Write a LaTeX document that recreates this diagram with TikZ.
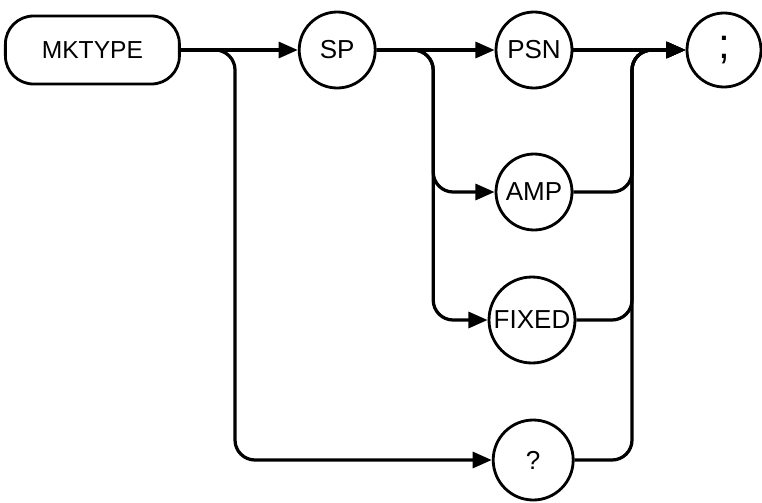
\documentclass[tikz,border=0pt]{standalone}
\usepackage{fontspec}
\setsansfont{Liberation Sans}
\usetikzlibrary{arrows.meta}

\begin{document}
\begin{tikzpicture}[
  font=\sffamily\fontsize{18.5}{21}\selectfont,
  kwbox/.style={
    draw=black, line width=2pt, rounded corners=0.7cm,
    minimum width=4.35cm, minimum height=1.7cm,
    font=\sffamily\fontsize{17.5}{20}\selectfont,
  },
  tok/.style={draw=black, circle, line width=2pt, inner sep=1pt, minimum size=1.9cm},
  flow/.style={-{Triangle[length=0.48cm, width=0.4cm]}, line width=2.3pt, draw=black,
    rounded corners=0.5cm},
]
\useasboundingbox (0,0) rectangle (19.05,-12.55);

% ===== MAIN ROW (y=-1.25) =====
\node[kwbox] (mktype) at (2.31,-1.25) {MKTYPE};
\node[tok] (sp)  at (8.43,-1.25) {SP};
\node[tok] (psn) at (13.35,-1.25) {PSN};
\node[tok, minimum size=1.85cm, font=\sffamily\fontsize{30}{32}\selectfont] (semi) at (18.1,-1.25) {;};

% ===== ALTERNATIVES =====
\node[tok] (amp) at (13.35,-4.8) {AMP};
\node[tok, minimum size=2.15cm] (fixed) at (13.3,-8.0) {FIXED};
\node[tok, minimum size=2.0cm] (qry) at (13.33,-11.5) {?};

% ===== JUNCTIONS =====
\coordinate (jl) at (5.875,-1.25);
\coordinate (js) at (10.83,-1.25);
\coordinate (jm) at (15.8,-1.25);

% ===== ARROWS: MKTYPE -> SP / ? =====
\draw[flow] (mktype.east) -- (sp.west);
\draw[flow] (mktype.east) -- (jl) |- (qry.west);

% ===== ARROWS: SP -> PSN / AMP / FIXED =====
\draw[flow] (sp.east) -- (psn.west);
\draw[flow] (sp.east) -- (js) |- (amp.west);
\draw[flow] (sp.east) -- (js) |- (fixed.west);

% ===== ARROWS: -> ; =====
\draw[flow] (psn.east) -- (semi.west);
\draw[flow] (amp.east) -| (jm) -- (semi.west);
\draw[flow] (fixed.east) -| (jm) -- (semi.west);
\draw[flow] (qry.east) -| (jm) -- (semi.west);

\end{tikzpicture}
\end{document}
